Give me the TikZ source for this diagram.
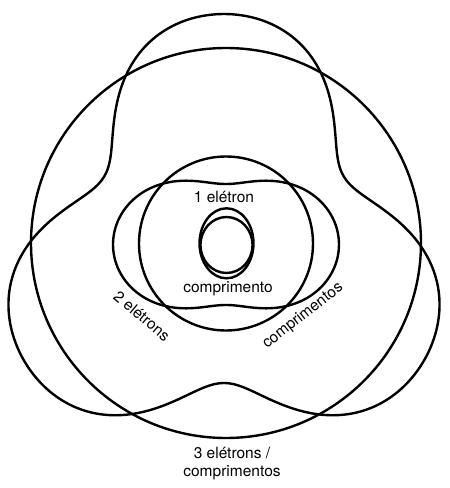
\documentclass[tikz,border=0pt]{standalone}
\usepackage{fontspec}
\setmainfont{TeX Gyre Heros}
\tikzset{orbit/.style={line width=2.4pt}}
\tikzset{wave/.style={smooth cycle,line width=2.4pt,samples=180,domain=0:358}}
\tikzset{lbl/.style={font=\fontsize{15.5}{18}\selectfont,inner sep=0pt}}

\begin{document}
\begin{tikzpicture}[x=1pt,y=1pt]
        \useasboundingbox (-226,-243) rectangle (224,245);
        % draw the outer orbit and its wave (3 lengths)
        \draw[orbit] (0,2) circle (195pt);
        \draw[wave,shift={(-2,0)}] plot(\x:{190.25+46.5*cos(3*(\x-90))-5.75*cos(6*(\x-90))});
        % draw the middle orbit and its wave (2 lengths)
        \draw[orbit] (0,1.5) circle (87pt);
        \draw[wave,shift={(0,0.5)}] plot(\x:{86.75+26.25*cos(2*\x)});
        % draw the inner orbit and its wave (1 length)
        \draw[orbit] (0.5,0) ellipse (26pt and 28pt);
        \draw[orbit] (0.5,1.7) ellipse (27pt and 35pt);
        
        \node[lbl] (one) at (-2,48) {1 elétron};
        \node[lbl] (onelen) at (2,-44) {comprimento};
        \node[lbl,rotate=-40] (two) at (-84,-71) {2 elétrons};
        \node[lbl,rotate=38] (twolen) at (77,-71) {comprimentos};
        \node[lbl,align=center] (three) at (6,-219) {3 elétrons /\\comprimentos};
    \end{tikzpicture}
\end{document}
